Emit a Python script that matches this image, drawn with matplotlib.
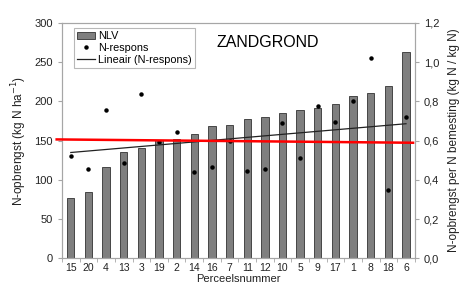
import numpy as np
import matplotlib
matplotlib.use("Agg")
import matplotlib.pyplot as plt
from matplotlib.ticker import FixedLocator

plt.rcParams["font.family"] = ["Liberation Sans", "DejaVu Sans"]

percelen = ["15", "20", "4", "13", "3", "19", "2", "14", "16", "7",
            "11", "12", "10", "5", "9", "17", "1", "8", "18", "6"]
nlv = [77, 85, 116, 136, 140, 151, 152, 159, 169, 170,
       177, 180, 185, 189, 192, 196, 207, 211, 220, 263]
n_respons = [0.52, 0.455, 0.755, 0.487, 0.837, 0.591, 0.645, 0.438, 0.465, 0.599,
             0.446, 0.455, 0.688, 0.512, 0.776, 0.696, 0.803, 1.019, 0.348, 0.718]
red_x = [-0.8, 19.4]
red_y = [0.606, 0.589]
left_ticks = [0, 50, 100, 150, 200, 250, 300]
right_ticks = [0.0, 0.2, 0.4, 0.6, 0.8, 1.0, 1.2]
right_labels = ["0,0", "0,2", "0,4", "0,6", "0,8", "1,0", "1,2"]

x = np.arange(len(percelen))
grey = "#a6a6a6"
txt = "#222222"

fig = plt.figure(figsize=(4.73, 2.89), dpi=100)
ax = fig.add_axes([0.131, 0.106, 0.746, 0.815])
ax2 = ax.twinx()

bars = ax.bar(x, nlv, width=0.42, color="#7f7f7f", edgecolor="#333333", linewidth=0.6, label="NLV")
ax.set_xlim(-0.5, len(x) - 0.5)
ax.set_ylim(0, 300)
ax.set_yticks(left_ticks)
ax.set_xticks(x)
ax.set_xticklabels(percelen)
ax.xaxis.set_minor_locator(FixedLocator(np.arange(-0.5, len(x), 1.0)))
ax.tick_params(axis="x", which="major", length=0, labelsize=7.5, colors=txt, pad=3)
ax.tick_params(axis="x", which="minor", length=3, color=grey, direction="out")
ax.tick_params(axis="y", length=3, color=grey, labelsize=8, colors=txt)
ax.set_ylabel("N-opbrengst (kg N ha$^{-1}$)", fontsize=8.5, color=txt, labelpad=4)
ax.set_xlabel("Perceelsnummer", fontsize=8, color=txt, labelpad=1)

pts, = ax2.plot(x, n_respons, ls="none", marker="o", ms=2.2, color="black", label="N-respons")
coef = np.polyfit(x, n_respons, 1)
trend, = ax2.plot(x, np.polyval(coef, x), color="#222222", lw=0.9, label="Lineair (N-respons)")
ax2.plot(red_x, red_y, color="red", lw=1.8, clip_on=False, zorder=5)
ax2.set_ylim(0, 1.2)
ax2.set_yticks(right_ticks)
ax2.set_yticklabels(right_labels)
ax2.tick_params(axis="y", length=3, color=grey, labelsize=8, colors=txt)
ax2.set_ylabel("N-opbrengst per N bemesting (kg N / kg N)", fontsize=8.5, color=txt, labelpad=6)

for a in (ax, ax2):
    for s in a.spines.values():
        s.set_color(grey)
        s.set_linewidth(0.8)

ax.text(0.439, 0.918, "ZANDGROND", transform=ax.transAxes, fontsize=11.5, color="black", va="center")

leg = ax2.legend([bars, pts, trend], ["NLV", "N-respons", "Lineair (N-respons)"],
                 loc="upper left", bbox_to_anchor=(0.034, 0.977), borderaxespad=0,
                 fontsize=7.8, fancybox=False, frameon=True, handlelength=1.6,
                 handletextpad=0.3, borderpad=0.3, labelspacing=0.15)
leg.get_frame().set_edgecolor(grey)
leg.get_frame().set_linewidth(0.8)

fig.savefig("out.png", dpi=100)
